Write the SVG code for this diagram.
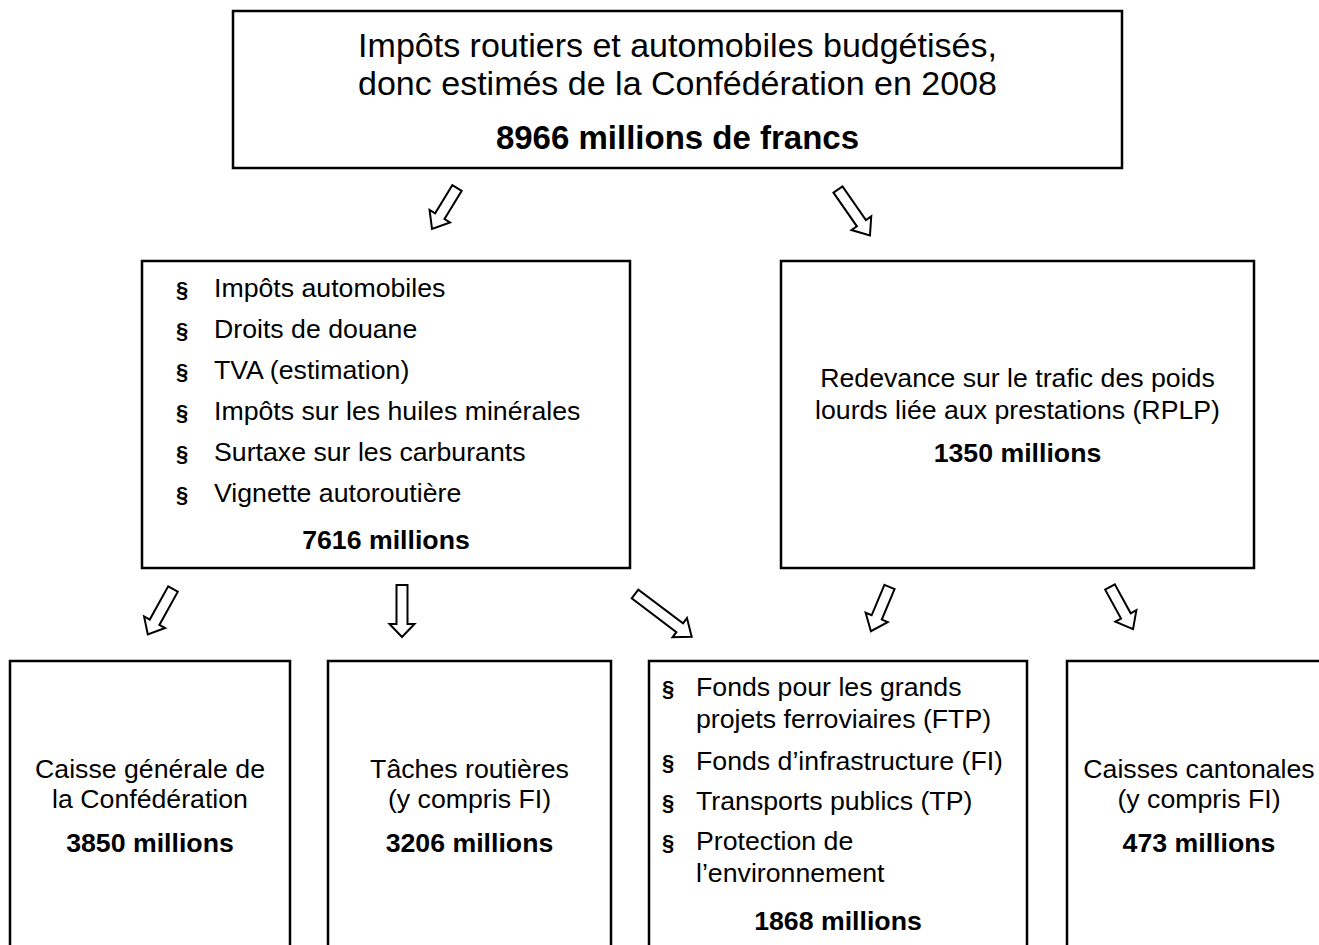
<svg xmlns="http://www.w3.org/2000/svg" width="1319" height="945" viewBox="0 0 1319 945">
<style>
.box{fill:#fff;stroke:#000;stroke-width:2.5}
.arr{fill:#fff;stroke:#000;stroke-width:2;stroke-linejoin:miter}
text{font-family:"Liberation Sans",Arial,sans-serif;fill:#000}
.t{font-size:34px}
.tb{font-size:33px;font-weight:bold}
.m{font-size:26.7px}
.mb{font-size:26.7px;font-weight:bold}
.bul{font-size:22px;font-weight:bold}
.c{text-anchor:middle}
</style>
<rect width="1319" height="945" fill="#fff"/>

<g id="connectors">
<polygon class="arr" transform="translate(457,188) rotate(31.4)" points="-5.5,0 5.5,0 5.5,33 12,33 0,48 -12,33 -5.5,33"/>
<polygon class="arr" transform="translate(838,189.5) rotate(-34.8)" points="-5.5,0 5.5,0 5.5,41 12,41 0,56 -12,41 -5.5,41"/>
<polygon class="arr" transform="translate(173,589) rotate(29)" points="-5.5,0 5.5,0 5.5,38 12,38 0,52 -12,38 -5.5,38"/>
<polygon class="arr" transform="translate(402,585) rotate(0)" points="-5.5,0 5.5,0 5.5,39 12.5,39 0,52 -12.5,39 -5.5,39"/>
<polygon class="arr" transform="translate(635,594) rotate(-53)" points="-5.5,0 5.5,0 5.5,56 12,56 0,71 -12,56 -5.5,56"/>
<polygon class="arr" transform="translate(889.5,587) rotate(22.8)" points="-5.5,0 5.5,0 5.5,33 12,33 0,48 -12,33 -5.5,33"/>
<polygon class="arr" transform="translate(1110,587) rotate(-28.7)" points="-5.5,0 5.5,0 5.5,33 12,33 0,48 -12,33 -5.5,33"/>
</g>

<g id="top">
<rect class="box" x="233" y="11" width="889" height="157"/>
<text class="t c" x="677.5" y="57">Impôts routiers et automobiles budgétisés,</text>
<text class="t c" x="677.5" y="95">donc estimés de la Confédération en 2008</text>
<text class="tb c" x="677.5" y="149">8966 millions de francs</text>
</g>

<g id="impots">
<rect class="box" x="142" y="261" width="488" height="307"/>
<text class="bul c" x="182" y="297">§</text>
<text class="m" x="214" y="297">Impôts automobiles</text>
<text class="bul c" x="182" y="338">§</text>
<text class="m" x="214" y="338">Droits de douane</text>
<text class="bul c" x="182" y="379">§</text>
<text class="m" x="214" y="379">TVA (estimation)</text>
<text class="bul c" x="182" y="420">§</text>
<text class="m" x="214" y="420">Impôts sur les huiles minérales</text>
<text class="bul c" x="182" y="461">§</text>
<text class="m" x="214" y="461">Surtaxe sur les carburants</text>
<text class="bul c" x="182" y="502">§</text>
<text class="m" x="214" y="502">Vignette autoroutière</text>
<text class="mb c" x="386" y="549">7616 millions</text>
</g>

<g id="rplp">
<rect class="box" x="781" y="261" width="473" height="307"/>
<text class="m c" x="1017.5" y="387">Redevance sur le trafic des poids</text>
<text class="m c" x="1017.5" y="419">lourds liée aux prestations (RPLP)</text>
<text class="mb c" x="1017.5" y="462">1350 millions</text>
</g>

<g id="caisse">
<rect class="box" x="10" y="661" width="280" height="320"/>
<text class="m c" x="150" y="778">Caisse générale de</text>
<text class="m c" x="150" y="808">la Confédération</text>
<text class="mb c" x="150" y="852">3850 millions</text>
</g>

<g id="taches">
<rect class="box" x="328" y="661" width="283" height="320"/>
<text class="m c" x="469.5" y="778">Tâches routières</text>
<text class="m c" x="469.5" y="808">(y compris FI)</text>
<text class="mb c" x="469.5" y="852">3206 millions</text>
</g>

<g id="fonds">
<rect class="box" x="649" y="661" width="378" height="320"/>
<text class="bul c" x="668" y="696">§</text>
<text class="m" x="696" y="696">Fonds pour les grands</text>
<text class="m" x="696" y="728">projets ferroviaires (FTP)</text>
<text class="bul c" x="668" y="770">§</text>
<text class="m" x="696" y="770">Fonds d’infrastructure (FI)</text>
<text class="bul c" x="668" y="810">§</text>
<text class="m" x="696" y="810">Transports publics (TP)</text>
<text class="bul c" x="668" y="850">§</text>
<text class="m" x="696" y="850">Protection de</text>
<text class="m" x="696" y="882">l’environnement</text>
<text class="mb c" x="838" y="930">1868 millions</text>
</g>

<g id="cantons">
<rect class="box" x="1067" y="661" width="264" height="320"/>
<text class="m c" x="1199" y="778">Caisses cantonales</text>
<text class="m c" x="1199" y="808">(y compris FI)</text>
<text class="mb c" x="1199" y="852">473 millions</text>
</g>
</svg>
